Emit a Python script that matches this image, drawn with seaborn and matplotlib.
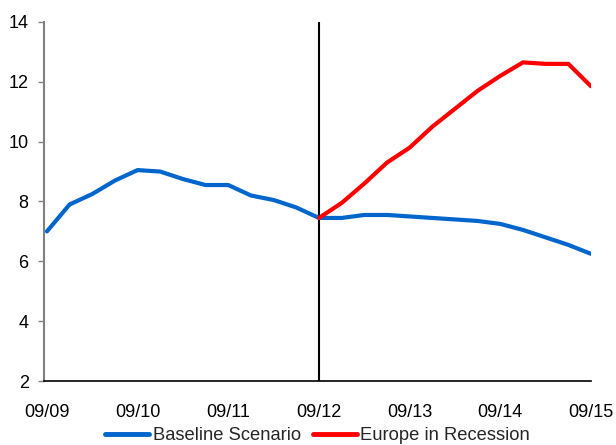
import matplotlib
matplotlib.use("Agg")
import matplotlib.pyplot as plt
import seaborn as sns
import pandas as pd
import numpy as np

tick_labels = ["09/09", "09/10", "09/11", "09/12", "09/13", "09/14", "09/15"]
baseline = [7.0, 7.9, 8.25, 8.7, 9.05, 9.0, 8.75, 8.55, 8.55, 8.2, 8.05, 7.8,
            7.45, 7.45, 7.55, 7.55, 7.5, 7.45, 7.4, 7.35, 7.25, 7.05, 6.8, 6.55, 6.25]
recession = [7.45, 7.95, 8.6, 9.3, 9.8, 10.5, 11.1, 11.7, 12.2, 12.65, 12.6, 12.6, 11.85]
recession_start = 12

sns.set_theme(style="white")
plt.rcParams['font.family'] = ['Liberation Sans', 'DejaVu Sans']

df = pd.concat([
    pd.DataFrame({"q": np.arange(len(baseline)), "v": baseline, "s": "Baseline Scenario"}),
    pd.DataFrame({"q": np.arange(len(recession)) + recession_start, "v": recession, "s": "Europe in Recession"}),
])

fig = plt.figure(figsize=(6.16, 4.45), dpi=100)
ax = fig.add_axes([0.0714, 0.1438, 0.8880, 0.8068])
sns.lineplot(data=df, x="q", y="v", hue="s", ax=ax,
             palette={"Baseline Scenario": "#0066CC", "Europe in Recession": "#FF0000"},
             linewidth=3, legend=True)
ax.axvline(recession_start, color="black", linewidth=1.5, zorder=1)

ax.set_xlim(-0.13, 24)
ax.set_ylim(2, 14)
ax.set_yticks(range(2, 15, 2))
ax.set_xticks(range(0, 25, 4))
ax.set_xticklabels(tick_labels)
ax.set_xlabel("")
ax.set_ylabel("")
ax.tick_params(axis="both", labelsize=13, colors="black")
ax.tick_params(axis="y", which="major", left=True, length=4.5, width=1, color="#808080", pad=6.5)
ax.tick_params(axis="x", bottom=False, pad=10.5)
for s in ["top", "right"]:
    ax.spines[s].set_visible(False)
ax.spines["left"].set_color("#808080")
ax.spines["left"].set_linewidth(1.5)
ax.spines["bottom"].set_color("black")
ax.spines["bottom"].set_linewidth(1.2)

leg = ax.legend(loc="center", bbox_to_anchor=(0.5, -0.153), ncol=2, frameon=False,
                fontsize=13.2, handlelength=2.4, handletextpad=0.2, columnspacing=0.65,
                borderaxespad=0, borderpad=0.1)
for line in leg.get_lines():
    line.set_linewidth(3.5)
fig.savefig("out.png", dpi=100)
